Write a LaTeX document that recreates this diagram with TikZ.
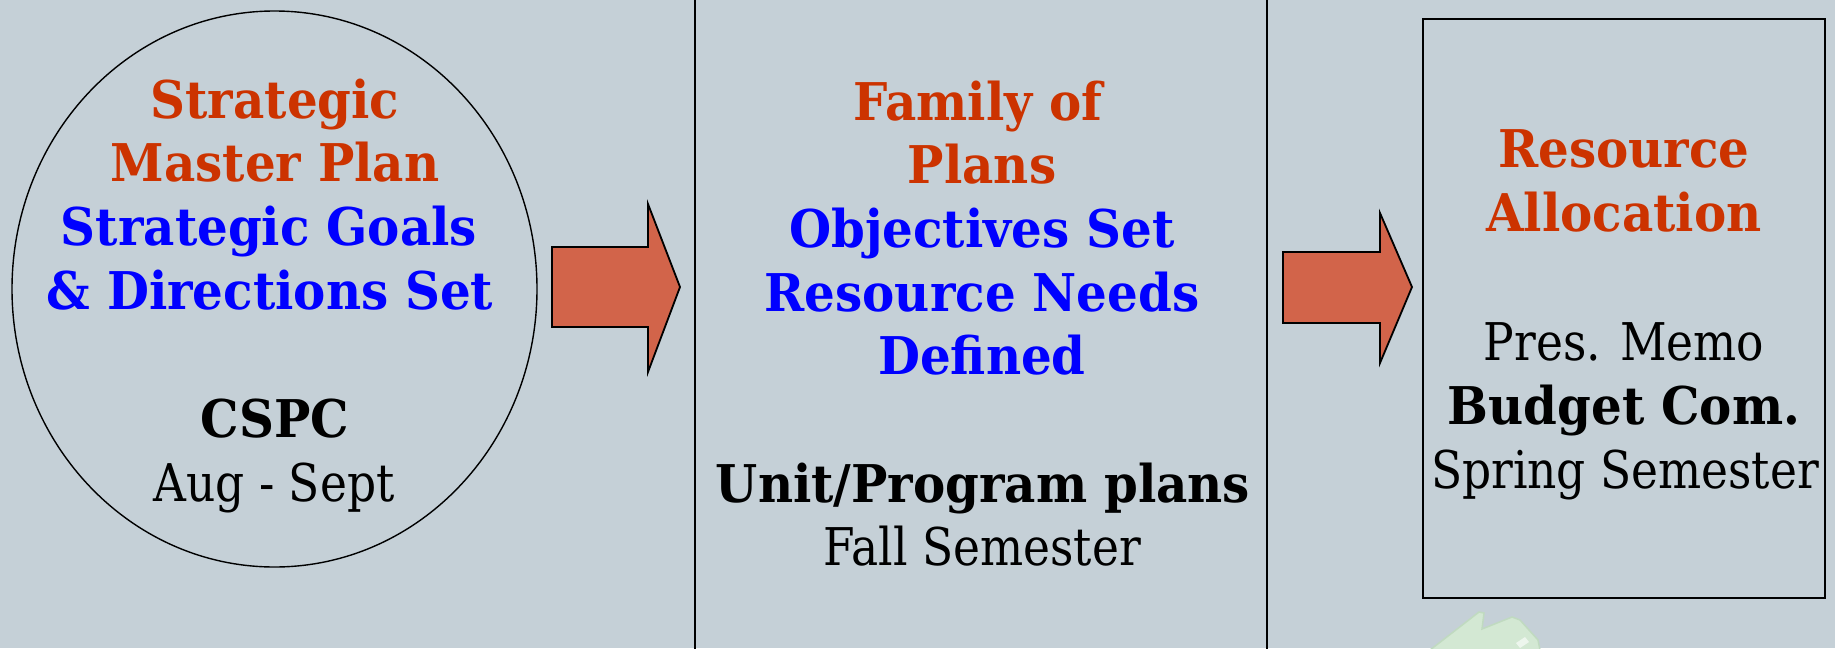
\documentclass[tikz,border=0pt]{standalone}
\usepackage{fontspec}
\usetikzlibrary{shapes.geometric}
\setmainfont{DejaVu Serif}
\newfontfamily\regf{DejaVu Serif}[FakeStretch=0.875]
\newfontfamily\boldf{DejaVu Serif}[FakeStretch=0.93]
\definecolor{bgc}{HTML}{C5D0D7}
\definecolor{redt}{HTML}{CC3300}
\definecolor{bluet}{HTML}{0000FF}
\definecolor{arrowc}{HTML}{D2644A}
\definecolor{leafc}{HTML}{D3E8D3}
\definecolor{leafd}{HTML}{C0DAC0}
\tikzset{
  txt/.style={anchor=base, inner sep=0pt, font=\fontsize{52}{60}\selectfont\regf},
  bld/.style={anchor=base, inner sep=0pt, font=\fontsize{52}{60}\selectfont\boldf\bfseries},
  ttl/.style={bld, text=redt},
  sub/.style={bld, text=bluet},
  blockarrow/.style={fill=arrowc, draw=black, line width=1.8pt, line join=miter},
}
\begin{document}
\begin{tikzpicture}[x=1pt, y=-1pt]
\fill[bgc] (0,0) rectangle (1835,648);
\useasboundingbox (0,0) rectangle (1835,648);
% faint watermark
\fill[leafc, draw=leafd, line width=1.5pt] (1430,650) -- (1479,612) -- (1484,613) -- (1482,629) -- (1512,617) -- (1520,620) -- (1538,640) -- (1540,650) -- cycle;
\fill[white!60!leafc] (1516,643) -- (1525,637) -- (1529,642) -- (1520,648) -- cycle;
% circle
\node[draw=black, line width=1.4pt, ellipse, minimum width=525pt, minimum height=556pt, inner sep=0pt] (circ) at (274.5,289) {};
% middle box (extends past the picture)
\coordinate (mtl) at (695,-2);
\coordinate (mbr) at (1267,650);
\draw[line width=1.8pt] (mtl) rectangle (mbr);
% right box
\node[draw=black, line width=2pt, minimum width=402pt, minimum height=579pt, inner sep=0pt] (rbox) at (1624,308.5) {};
% arrows
\draw[blockarrow] (552,247) -- (648,247) -- (648,204) -- (680,287) -- (648,372) -- (648,327) -- (552,327) -- cycle;
\draw[blockarrow] (1283,252) -- (1380,252) -- (1380,213) -- (1412,287) -- (1380,363) -- (1380,323) -- (1283,323) -- cycle;
% circle text
\node[ttl] (c1) at (275,118) {Strategic};
\node[ttl] (c2) at (275,181) {Master Plan};
\node[sub] (c3) at (269,245) {Strategic Goals};
\node[sub] (c4) at (270,309) {\& Directions Set};
\node[bld] (c5) at (275,437) {CSPC};
\node[txt] (c6) at (274,501) {Aug - Sept};
% middle text
\node[ttl] (m1) at (978,120) {Family of};
\node[ttl] (m2) at (982,183) {Plans};
\node[sub] (m3) at (982,247) {Objectives Set};
\node[sub] (m4) at (982,311) {Resource Needs};
\node[sub] (m5) at (982,374) {Defined};
\node[bld] (m6) at (983,502) {Unit/Program plans};
\node[txt] (m7) at (982,565) {Fall Semester};
% right text
\node[ttl] (r1) at (1624,167) {Resource};
\node[ttl] (r2) at (1624,231) {Allocation};
\node[txt] (r3) at (1624,360) {Pres. Memo};
\node[bld] (r4) at (1624,424) {Budget Com.};
\node[txt] (r5) at (1625,488) {Spring Semester};
\end{tikzpicture}
\end{document}
